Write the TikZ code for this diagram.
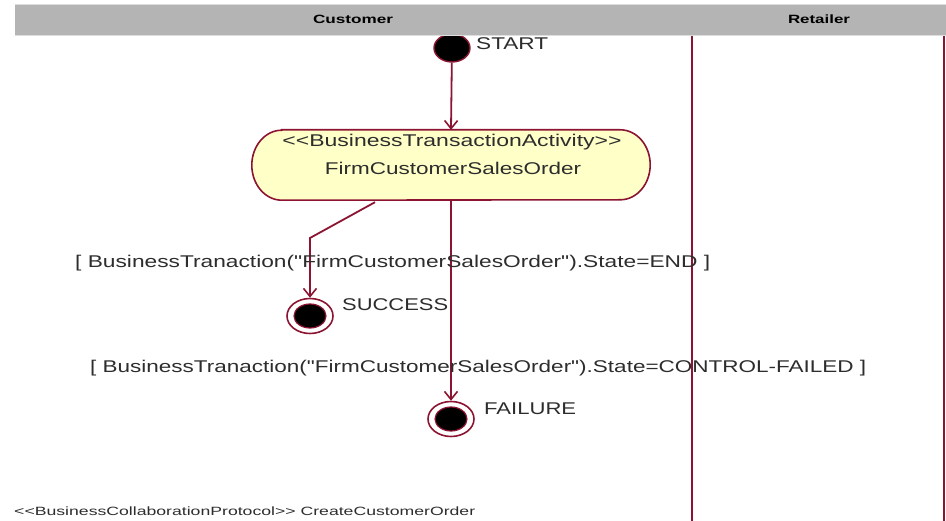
\documentclass[tikz,border=0pt]{standalone}
\usepackage{fontspec}
\setmainfont{Liberation Sans}[Ligatures=TeXOff]
\usetikzlibrary{arrows.meta,shapes.geometric}
\definecolor{umlred}{RGB}{140,20,50}
\definecolor{lanegray}{RGB}{180,180,180}
\definecolor{laneedge}{RGB}{222,222,222}
\definecolor{actfill}{RGB}{255,255,200}
\definecolor{txt}{RGB}{45,45,45}
% stretch a text horizontally to a given width, keeping its height
\newcommand{\fitw}[2]{\resizebox{#1}{\height}{#2}}
\begin{document}
\begin{tikzpicture}[x=1pt,y=-1pt,
  lbl/.style={inner sep=0pt, anchor=west, text=txt, font=\fontsize{17}{20}\selectfont},
  small/.style={inner sep=0pt, anchor=west, text=txt, font=\fontsize{12}{14}\selectfont},
  lanehead/.style={inner sep=0pt, text=black, font=\bfseries\fontsize{12}{14}\selectfont},
  lane/.style={draw=umlred, line width=2pt},
  flow/.style={draw=umlred, line width=1.8pt, -{Straight Barb[length=8pt,width=13pt,line width=1.6pt]}},
  initial/.style={ellipse, draw=umlred, line width=1.4pt, fill=black, minimum width=36, minimum height=28, inner sep=0pt},
  final/.style={ellipse, draw=umlred, line width=1.6pt, fill=white, minimum width=46, minimum height=35, inner sep=0pt,
    path picture={\filldraw[fill=black, draw=umlred, line width=1.2pt] (path picture bounding box.center) ellipse [x radius=16, y radius=12];}},
  activity/.style={inner sep=0pt, minimum width=398, minimum height=70}
]
\useasboundingbox (0,0) rectangle (946,521);
\fill[white] (0,0) rectangle (946,521);

% initial state, partly under the lane header
\node[initial] (start) at (452,48) {};
\node[lbl] (startlbl) at (476,44) {\fitw{72pt}{START}};

% swimlane header and lane borders
\fill[lanegray] (15,5) rectangle (946,35);
\draw[laneedge, line width=1.2pt] (15,4.5) -- (946,4.5);
\draw[laneedge, line width=1.2pt] (15,35.5) -- (946,35.5);
\node[lanehead] (customer) at (353,19) {\fitw{80pt}{Customer}};
\node[lanehead] (retailer) at (819,19) {\fitw{62pt}{Retailer}};
\draw[lane] (692,36) -- (692,521);
\draw[lane] (944,36) -- (944,521);

% business transaction activity
\node[activity] (act) at (451,165) {};
\filldraw[fill=actfill, draw=umlred, line width=1.6pt]
  ([xshift=30pt]act.north west) -- ([xshift=-30pt]act.north east)
  arc[start angle=-90, end angle=90, x radius=30, y radius=35]
  -- ([xshift=30pt]act.south west)
  arc[start angle=90, end angle=270, x radius=30, y radius=35] -- cycle;
\node[lbl, anchor=center] (stereo) at (452,142) {\fitw{339pt}{<<BusinessTransactionActivity>>}};
\node[lbl, anchor=center] (actname) at (453,168) {\fitw{256pt}{FirmCustomerSalesOrder}};

% final states
\node[final] (succ) at (310,316) {};
\node[lbl] (succlbl) at (342,305) {\fitw{106pt}{SUCCESS}};
\node[final] (fail) at (451,419) {};
\node[lbl] (faillbl) at (484,409) {\fitw{92pt}{FAILURE}};

% transitions
\draw[flow] (start) -- (act.north);
\draw[flow] ([xshift=-76pt,yshift=-2pt]act.south) -- (succ.center |- 0,238) -- (succ.north);
\draw[flow] (act.south -| fail.north) -- (fail.north);

% guard conditions
\node[lbl] (guardend) at (75,263) {\fitw{635pt}{[ BusinessTranaction("FirmCustomerSalesOrder").State=END ]}};
\node[lbl] (guardfail) at (90,368) {\fitw{776pt}{[ BusinessTranaction("FirmCustomerSalesOrder").State=CONTROL-FAILED ]}};

% collaboration protocol name
\node[small] (protocol) at (14,511) {\fitw{461pt}{<<BusinessCollaborationProtocol>> CreateCustomerOrder}};
\end{tikzpicture}
\end{document}
